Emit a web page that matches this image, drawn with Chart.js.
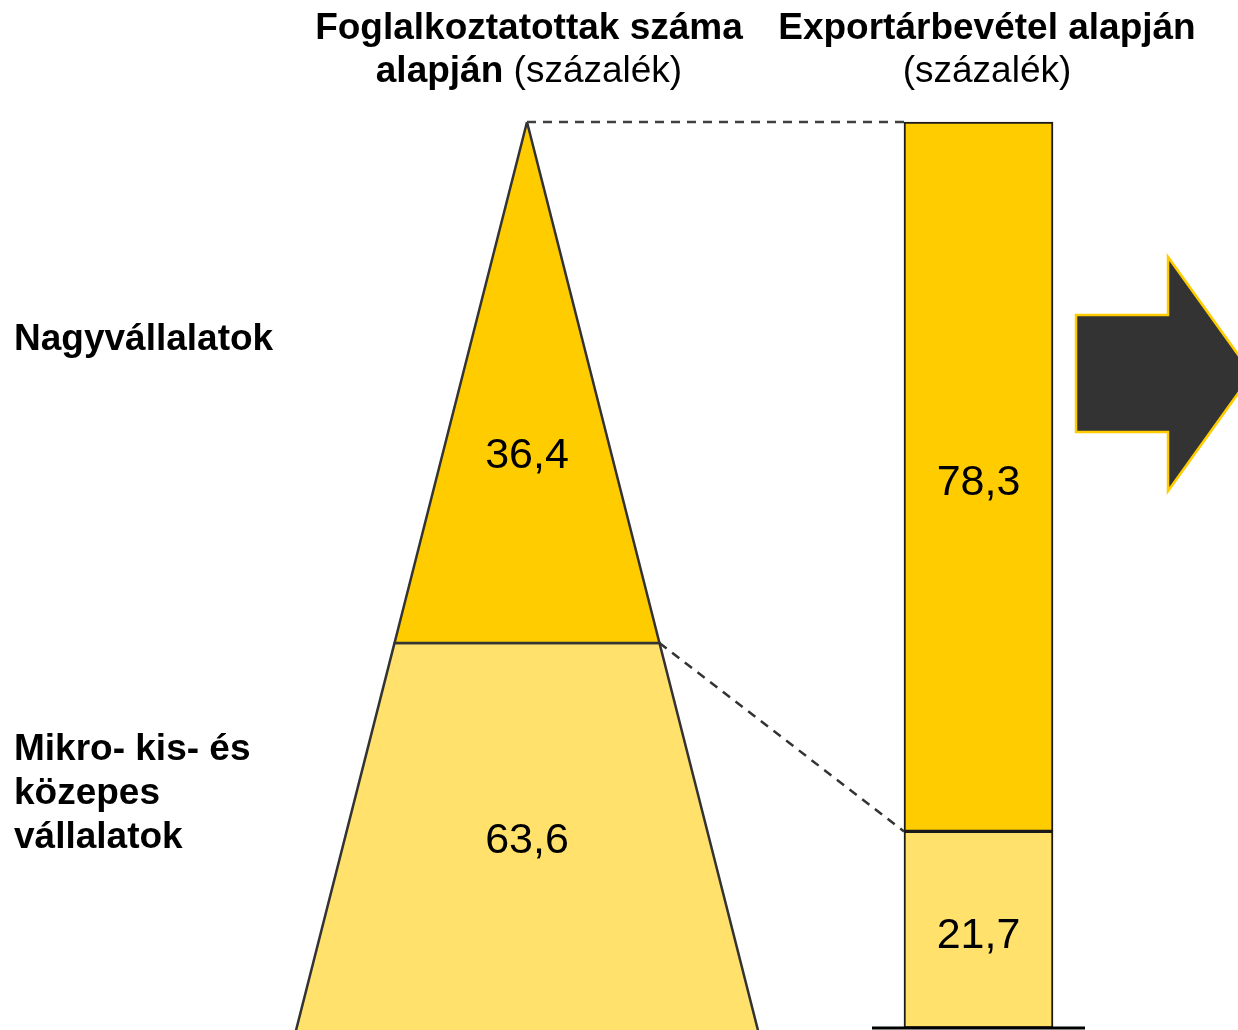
<!DOCTYPE html>
<html lang="hu">
<head>
<meta charset="utf-8">
<title>Foglalkoztatás és export vállalatméret szerint</title>
<script src="https://cdn.jsdelivr.net/npm/chart.js@4.4.1/dist/chart.umd.min.js"></script>
<style>
    html, body { margin: 0; padding: 0; background: #fff; }
    #wrap { position: relative; width: 1238px; height: 1030px; overflow: hidden; font-family: "Liberation Sans", Arial, sans-serif; color: #000; }
    #wrap canvas { position: absolute; left: 0; top: 0; }
    .title { position: absolute; top: 5px; width: 480px; text-align: center; font-size: 37px; line-height: 43px; white-space: nowrap; }
    .title b { font-weight: bold; }
    .cat { position: absolute; left: 14px; font-size: 37px; line-height: 44px; font-weight: bold; }
</style>
</head>
<body>
<div id="wrap">
    <canvas id="chart"></canvas>
    <div class="title" id="title-emp" style="left:289px"></div>
    <div class="title" id="title-exp" style="left:747px"></div>
    <div class="cat" id="cat-large" style="top:316px"></div>
    <div class="cat" id="cat-sme" style="top:726px"></div>
</div>
<script>
// ------------------------------------------------------------
// Adatok (százalék)
// ------------------------------------------------------------
const CATEGORIES       = ['Nagyvállalatok', 'Mikro- kis- és közepes vállalatok'];
const EMPLOYMENT_SHARE = [36.4, 63.6];   // foglalkoztatottak száma alapján
const EXPORT_SHARE     = [78.3, 21.7];   // exportárbevétel alapján
const TITLE_BOLD       = ['Foglalkoztatottak száma alapján', 'Exportárbevétel alapján'];
const TITLE_UNIT       = '(százalék)';

// ------------------------------------------------------------
// Elrendezés (tengelyegységben)
// ------------------------------------------------------------
const PYR_X     = 527;     // piramis tengelye
const PYR_SLOPE = 2.304;   // fél szélesség / magasság-egység
const PYR_FULL  = 95.3;    // teljes piramis magassága (területarányos felosztáshoz)
const BAR_X     = 978.5;
const BAR_W     = 149;

const YELLOW = '#FFCC00';
const LIGHT  = '#FFE16B';
const EDGE   = '#333333';

const fmt = v => v.toFixed(1).replace('.', ',');

// szöveges elemek
document.getElementById('title-emp').innerHTML =
    '<b>Foglalkoztatottak száma</b><br><b>alapján</b> ' + TITLE_UNIT;
document.getElementById('title-exp').innerHTML =
    '<b>' + TITLE_BOLD[1] + '</b><br>' + TITLE_UNIT;
document.getElementById('cat-large').textContent = CATEGORIES[0];
document.getElementById('cat-sme').innerHTML = 'Mikro- kis- és<br>közepes<br>vállalatok';

// piramis: a felső rész területe arányos a nagyvállalatok részarányával
const pyrSplit = 100 - Math.sqrt(EMPLOYMENT_SHARE[0] / 100) * PYR_FULL;
const pyrBottom = -1;
const halfW = y => (100 - y) * PYR_SLOPE;

const pyrTop = [
    { x: PYR_X, y: 100 },
    { x: PYR_X + halfW(pyrSplit), y: pyrSplit },
    { x: PYR_X - halfW(pyrSplit), y: pyrSplit },
    { x: PYR_X, y: 100 }
];
const pyrLow = [
    { x: PYR_X - halfW(pyrSplit), y: pyrSplit },
    { x: PYR_X + halfW(pyrSplit), y: pyrSplit },
    { x: PYR_X + halfW(pyrBottom), y: pyrBottom },
    { x: PYR_X - halfW(pyrBottom), y: pyrBottom },
    { x: PYR_X - halfW(pyrSplit), y: pyrSplit }
];

// oszlop: lebegő szakaszok alulról felfelé
const barLowRange = [0, EXPORT_SHARE[1]];
const barTopRange = [EXPORT_SHARE[1], EXPORT_SHARE[1] + EXPORT_SHARE[0]];
const barLeft = BAR_X - BAR_W / 2;

// felirat + nyíl
const labelPlugin = {
    id: 'labels',
    afterDatasetsDraw(chart) {
        const { ctx, scales: { x, y } } = chart;
        const dy = 6;
        ctx.save();
        ctx.font = '43px "Liberation Sans", Arial, sans-serif';
        ctx.fillStyle = '#000';
        ctx.textAlign = 'center';
        ctx.textBaseline = 'middle';
        ctx.fillText(fmt(EMPLOYMENT_SHARE[0]), x.getPixelForValue(PYR_X), y.getPixelForValue(pyrSplit + (100 - pyrSplit) * 0.37) + dy);
        ctx.fillText(fmt(EMPLOYMENT_SHARE[1]), x.getPixelForValue(PYR_X), y.getPixelForValue(pyrSplit / 2) + dy);
        ctx.fillText(fmt(EXPORT_SHARE[0]), x.getPixelForValue(BAR_X), y.getPixelForValue((barTopRange[0] + barTopRange[1]) / 2) + dy);
        ctx.fillText(fmt(EXPORT_SHARE[1]), x.getPixelForValue(BAR_X), y.getPixelForValue((barLowRange[0] + barLowRange[1]) / 2) + dy);

        // jobbra mutató nyíl (díszítés)
        ctx.beginPath();
        ctx.moveTo(1076, 315);
        ctx.lineTo(1168, 315);
        ctx.lineTo(1168, 257);
        ctx.lineTo(1252, 374);
        ctx.lineTo(1168, 491);
        ctx.lineTo(1168, 432);
        ctx.lineTo(1076, 432);
        ctx.closePath();
        ctx.fillStyle = '#333333';
        ctx.fill();
        ctx.lineWidth = 2.5;
        ctx.strokeStyle = YELLOW;
        ctx.stroke();
        ctx.restore();
    }
};

const shape = (data, fillColor, order) => ({
    type: 'line', data, order, clip: false,
    backgroundColor: fillColor, borderColor: EDGE, borderWidth: 2.5,
    fill: 'shape', pointRadius: 0, tension: 0
});

new Chart(document.getElementById('chart'), {
    type: 'line',
    data: {
        datasets: [
            // szaggatott összekötők
            {
                type: 'line', order: 0, clip: false,
                data: [{ x: PYR_X, y: 100 }, { x: barLeft, y: 100 }],
                borderColor: '#404040', borderWidth: 2.5, borderDash: [9, 7],
                pointRadius: 0, fill: false
            },
            {
                type: 'line', order: 0, clip: false,
                data: [{ x: PYR_X + halfW(pyrSplit), y: pyrSplit }, { x: barLeft, y: barLowRange[1] }],
                borderColor: '#333333', borderWidth: 2.5, borderDash: [9, 7],
                pointRadius: 0, fill: false
            },
            // alapvonal az oszlop alatt
            {
                type: 'line', order: 1, clip: false,
                data: [{ x: barLeft - 32, y: 0 }, { x: barLeft + BAR_W + 32, y: 0 }],
                borderColor: '#000', borderWidth: 3, pointRadius: 0, fill: false
            },
            // exportárbevétel oszlop
            {
                type: 'bar', order: 2, grouped: false, clip: false,
                data: [{ x: BAR_X, y: barTopRange }],
                backgroundColor: YELLOW, borderColor: '#1a1a1a', borderWidth: 2,
                borderSkipped: false, barThickness: BAR_W
            },
            {
                type: 'bar', order: 2, grouped: false, clip: false,
                data: [{ x: BAR_X, y: barLowRange }],
                backgroundColor: LIGHT, borderColor: '#1a1a1a', borderWidth: 2,
                borderSkipped: false, barThickness: BAR_W
            },
            // foglalkoztatási piramis
            shape(pyrTop, YELLOW, 3),
            shape(pyrLow, LIGHT, 4)
        ]
    },
    options: {
        responsive: true,
        maintainAspectRatio: false,
        animation: false,
        layout: { padding: { top: 122, bottom: 0, left: 0, right: 0 } },
        plugins: { legend: { display: false }, tooltip: { enabled: false } },
        scales: {
            x: { type: 'linear', min: 0, max: 1238, offset: false, display: false },
            y: { type: 'linear', min: -0.22, max: 100, display: false }
        }
    },
    plugins: [labelPlugin]
});
</script>
</body>
</html>
